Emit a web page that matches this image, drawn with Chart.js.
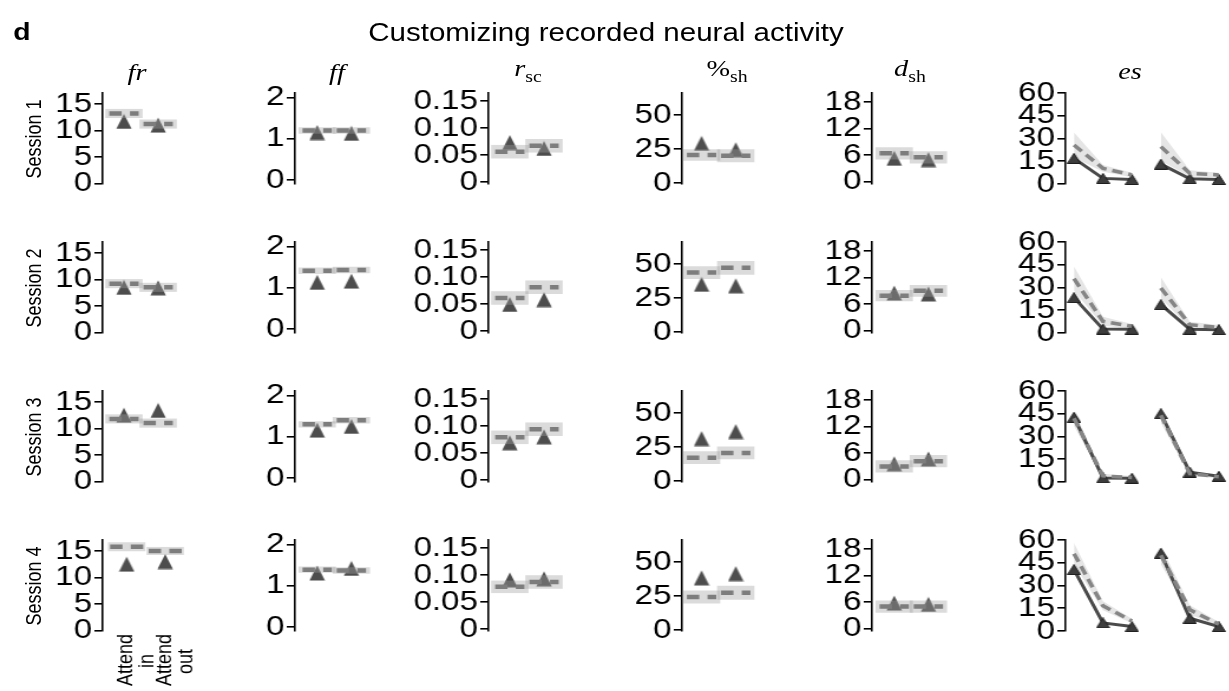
<!DOCTYPE html>
<html><head><meta charset="utf-8">
<script src="https://cdn.jsdelivr.net/npm/chart.js@4.4.0/dist/chart.umd.min.js"></script>
<style>
html,body{margin:0;padding:0;background:#fff;overflow:hidden;width:1229px;height:691px;}
#fig{position:absolute;left:0;top:0;width:1041.5px;height:691px;transform:scaleX(1.18);transform-origin:0 0;overflow:hidden;}
.t{position:absolute;white-space:nowrap;font-family:"Liberation Sans",Arial,sans-serif;color:#000;transform:translate(-50%,-50%);}
.m{font-family:"Liberation Serif","DejaVu Serif",serif;font-size:24px;}
.m i{font-style:italic;}
.m sub{font-size:70%;font-style:normal;vertical-align:-0.3em;}
canvas{position:absolute;}
</style></head><body><div id="fig"></div>
<script>
// ---------------- data ----------------
const sessions = ['Session 1', 'Session 2', 'Session 3', 'Session 4'];
const conditions = [['Attend', 'in'], ['Attend', 'out']];

const frData   = [[11.7, 11.0], [8.5, 8.4], [12.5, 13.4], [12.5, 13.0]];
const frModel  = [[13.2, 11.2], [9.2, 8.5], [11.8, 11.0], [15.8, 15.0]];
const frErr    = [[0.8, 0.8], [0.8, 0.8], [0.8, 0.8], [0.8, 0.7]];

const ffData   = [[1.15, 1.13], [1.13, 1.16], [1.16, 1.25], [1.31, 1.42]];
const ffModel  = [[1.20, 1.20], [1.41, 1.43], [1.30, 1.40], [1.39, 1.37]];
const ffErr    = [[0.07, 0.07], [0.07, 0.07], [0.07, 0.07], [0.07, 0.07]];

const rscData  = [[0.073, 0.062], [0.049, 0.058], [0.069, 0.080], [0.091, 0.093]];
const rscModel = [[0.056, 0.067], [0.061, 0.081], [0.079, 0.094], [0.078, 0.087]];
const rscErr   = [[0.012, 0.012], [0.012, 0.012], [0.012, 0.012], [0.011, 0.012]];

const shData   = [[29.2, 24.5], [35.1, 34.0], [31.2, 36.4], [38.4, 41.5]];
const shModel  = [[20.6, 20.1], [43.7, 47.2], [17.2, 20.7], [24.3, 27.5]];
const shErr    = [[4.0, 4.5], [4.5, 4.8], [4.4, 4.4], [4.5, 4.9]];

const dshData  = [[5.3, 5.0], [8.5, 8.3], [3.6, 4.7], [5.8, 5.5]];
const dshModel = [[6.4, 5.5], [7.9, 9.0], [3.0, 4.2], [5.0, 5.0]];
const dshErr   = [[1.3, 1.3], [1.2, 1.25], [1.3, 1.3], [1.3, 1.3]];

const esBinsIn  = [0, 1, 2];
const esBinsOut = [3, 4, 5];
const esDataIn   = [[16.9, 3.7, 3.0], [23.3, 2.6, 2.5], [42.7, 2.7, 2.5], [40.5, 5.3, 2.9]];
const esDataOut  = [[13.1, 3.5, 3.0], [18.7, 2.5, 2.2], [45.0, 6.5, 3.8], [51.3, 8.4, 2.9]];
const esModelIn  = [[25.7, 10.3, 6.0], [35.8, 7.7, 4.4], [42.0, 4.0, 3.0], [51.0, 16.6, 6.6]];
const esModelOut = [[24.6, 7.0, 6.0], [29.7, 5.5, 3.7], [44.0, 5.5, 3.5], [50.0, 14.0, 4.5]];
const esErrIn    = [[8.2, 2.2, 1.5], [8.0, 3.0, 1.5], [5.0, 1.5, 1.0], [7.0, 3.0, 1.5]];
const esErrOut   = [[9.5, 2.0, 1.5], [7.0, 2.0, 1.5], [5.0, 1.5, 1.0], [6.0, 3.0, 1.5]];

const frTicks  = [0, 5, 10, 15];        const frTickLabels  = ['0', '5', '10', '15'];
const ffTicks  = [0, 1, 2];             const ffTickLabels  = ['0', '1', '2'];
const rscTicks = [0, 0.05, 0.10, 0.15]; const rscTickLabels = ['0', '0.05', '0.10', '0.15'];
const shTicks  = [0, 25, 50];           const shTickLabels  = ['0', '25', '50'];
const dshTicks = [0, 6, 12, 18];        const dshTickLabels = ['0', '6', '12', '18'];
const esTicks  = [0, 15, 30, 45, 60];   const esTickLabels  = ['0', '15', '30', '45', '60'];

// ---------------- layout / style ----------------
const S = 1.18;                 // horizontal stretch of the figure
const X = v => v / S;           // page px -> container px
const fig = document.getElementById('fig');
const ROW_TOP = 93, ROW_STEP = 149, PLOT_H = 91;
const PT = 22, PB = 22, WY = 72, XH = 70, PR_X = 34;
const FONT = '"Liberation Sans", Arial, sans-serif';
Chart.defaults.font.family = FONT;

function tri(w, h, fill, stroke) {
  const c = document.createElement('canvas');
  c.width = w; c.height = h;
  const g = c.getContext('2d');
  g.beginPath(); g.moveTo(0.5, h - 0.5); g.lineTo(w / 2, 0.5); g.lineTo(w - 0.5, h - 0.5); g.closePath();
  g.fillStyle = fill; g.fill();
  if (stroke) { g.strokeStyle = stroke; g.lineWidth = 1; g.stroke(); }
  return c;
}
const triBig = tri(14, 16, '#4d4d4d');
const triSmall = tri(12, 11, '#3d3d3d', '#1e1e1e');

function text(html, x, y, style, cls) {
  const d = document.createElement('div');
  d.className = 't' + (cls ? ' ' + cls : '');
  d.innerHTML = html;
  d.style.left = X(x) + 'px';
  d.style.top = y + 'px';
  if (style) d.style.cssText += style;
  fig.appendChild(d);
}

function yAxis(ymin, ymax, ticks, labels) {
  return {
    type: 'linear', min: ymin, max: ymax,
    afterBuildTicks: s => { s.ticks = ticks.map(v => ({ value: v })); },
    afterFit: s => { s.width = WY; },
    ticks: { callback: (v, i) => labels[i], font: { size: 28 }, color: '#000', padding: 2, autoSkip: false, maxRotation: 0 },
    grid: { display: true, drawOnChartArea: false, drawTicks: true, tickLength: 7, color: '#000', lineWidth: 1.6 },
    border: { display: true, color: '#000', width: 1.6 }
  };
}

// rotated two-line labels: pad the short second line so that it sits centred under the first
function centredLines(lines) {
  const g = document.createElement('canvas').getContext('2d');
  g.font = '18px ' + FONT;
  const w0 = g.measureText(lines[0]).width, sp = g.measureText(' ').width;
  return lines.map((l, i) => i === 0 ? l : l + ' '.repeat(Math.max(0, Math.round((w0 - g.measureText(l).width) / 2 / sp))));
}

function panel(r, axisX, plotW, xmin, xmax, yCfg, datasets, xLabels) {
  const hasX = !!xLabels;
  const w = WY + plotW + (hasX ? PR_X : 0);
  const h = PT + PLOT_H + (hasX ? XH : PB);
  const cv = document.createElement('canvas');
  cv.width = w; cv.height = h;
  cv.style.left = (X(axisX) - WY) + 'px';
  cv.style.top = (ROW_TOP + ROW_STEP * r - PT) + 'px';
  cv.style.width = w + 'px'; cv.style.height = h + 'px';
  fig.appendChild(cv);
  const shown = hasX ? xLabels.map(centredLines) : null;
  const xCfg = hasX ? {
    type: 'linear', min: xmin, max: xmax, position: 'bottom', offset: false,
    afterBuildTicks: s => { s.ticks = xLabels.map((l, i) => ({ value: i })); },
    afterFit: s => { s.height = XH; },
    grid: { display: false, drawTicks: false, offset: false }, border: { display: false },
    ticks: { autoSkip: false, minRotation: 90, maxRotation: 90, padding: 3, font: { size: 18, lineHeight: 1.0 }, color: '#000',
             callback: (v, i) => shown[i] }
  } : { type: 'linear', min: xmin, max: xmax, display: false, offset: false, grid: { offset: false } };
  new Chart(cv, {
    type: 'scatter',
    data: { datasets },
    options: {
      responsive: false, maintainAspectRatio: false, animation: false, devicePixelRatio: 1, events: [],
      layout: { padding: { top: PT, bottom: hasX ? 0 : PB, left: 0, right: hasX ? PR_X : 0 } },
      plugins: { legend: { display: false }, tooltip: { enabled: false } },
      scales: { x: xCfg, y: yCfg }
    }
  });
}

// two-condition panels
const CAT_STEP = 38.5 / S;            // px per category (container px)
const PLOT_W = 80;
function catPanel(r, axisX, offset, yCfg, data, model, err, xLabels) {
  const xmin = -(offset / S) / CAT_STEP;
  const xmax = xmin + PLOT_W / CAT_STEP;
  const half = 14 / CAT_STEP;
  const idx = data.map((v, i) => i);
  const datasets = [
    ...idx.map(i => ({
      type: 'line', data: [{ x: i - half, y: model[i] }, { x: i + half, y: model[i] }],
      borderColor: '#7d7d7d', borderWidth: 4.5, borderDash: [10.5, 7], borderCapStyle: 'butt',
      pointRadius: 0, order: 1, clip: false
    })),
    {
      type: 'bar', data: idx.map(i => ({ x: i, y: [model[i] - err[i], model[i] + err[i]] })),
      backgroundColor: 'rgba(160,160,160,0.38)', borderWidth: 0, barThickness: 31, order: 2
    },
    {
      type: 'scatter', data: idx.map(i => ({ x: i, y: data[i] })),
      pointStyle: triBig, pointRadius: 8, order: 3, clip: false
    }
  ];
  panel(r, axisX, PLOT_W, xmin, xmax, yCfg, datasets, xLabels);
}

function esPanel(r, axisX, offset) {
  const step = 30.8 / S;
  const xmin = -(offset / S) / step;
  const plotW = (1252 - axisX) / S;
  const xmax = xmin + plotW / step;
  const line = (a, b) => [...esBinsIn.map((x, i) => ({ x, y: a[i] })), { x: 2.5, y: null }, ...esBinsOut.map((x, i) => ({ x, y: b[i] }))];
  const band = (bins, m, e, sign) => bins.map((x, i) => ({ x, y: m[i] + sign * e[i] }));
  const bandStyle = { type: 'line', borderWidth: 0, pointRadius: 0, order: 3, clip: false, tension: 0 };
  const datasets = [
    { type: 'line', data: line(esModelIn[r], esModelOut[r]), borderColor: '#858585', borderWidth: 3.5,
      borderDash: [9, 5], pointRadius: 0, order: 1, clip: false, spanGaps: false },
    { type: 'line', data: line(esDataIn[r], esDataOut[r]), borderColor: '#4a4a4a', borderWidth: 3,
      pointStyle: triSmall, pointRadius: 6, order: 2, clip: false, spanGaps: false },
    { ...bandStyle, data: band(esBinsIn, esModelIn[r], esErrIn[r], -1), fill: false },
    { ...bandStyle, data: band(esBinsIn, esModelIn[r], esErrIn[r], 1), fill: '-1', backgroundColor: 'rgba(175,175,175,0.33)' },
    { ...bandStyle, data: band(esBinsOut, esModelOut[r], esErrOut[r], -1), fill: false },
    { ...bandStyle, data: band(esBinsOut, esModelOut[r], esErrOut[r], 1), fill: '-1', backgroundColor: 'rgba(175,175,175,0.33)' }
  ];
  panel(r, axisX, plotW, xmin, xmax, yAxis(0, 60, esTicks, esTickLabels), datasets, null);
}

// ---------------- header text ----------------
text('d', 22, 32, 'font-weight:bold;font-size:24px;');
text('Customizing recorded neural activity', 606, 32, 'font-size:25px;');
text('<i>fr</i>', 137, 72, '', 'm');
text('<i>ff</i>', 337, 72, '', 'm');
text('<i>r</i><sub>sc</sub>', 528, 71, '', 'm');
text('%<sub>sh</sub>', 727, 71, '', 'm');
text('<i>d</i><sub>sh</sub>', 910, 71, '', 'm');
text('<i>es</i>', 1130, 71, '', 'm');

// ---------------- panels ----------------
sessions.forEach((s, r) => {
  text(s, 34, ROW_TOP + ROW_STEP * r + PLOT_H / 2, 'font-size:18px;transform:translate(-50%,-50%) rotate(-90deg);');
  catPanel(r, 103, 24, yAxis(-0.13, 17.07, frTicks, frTickLabels), frData[r], frModel[r], frErr[r], r === 3 ? conditions : null);
  catPanel(r, 295, 25, yAxis(-0.1, 2.11, ffTicks, ffTickLabels), ffData[r], ffModel[r], ffErr[r]);
  catPanel(r, 488, 24, yAxis(-0.004, 0.165, rscTicks, rscTickLabels), rscData[r], rscModel[r], rscErr[r]);
  catPanel(r, 682, 22, yAxis(-0.7, 66.2, shTicks, shTickLabels), shData[r], shModel[r], shErr[r]);
  catPanel(r, 872, 25, yAxis(-0.5, 20, dshTicks, dshTickLabels), dshData[r], dshModel[r], dshErr[r]);
  esPanel(r, 1065, 9);
});
</script></body></html>
